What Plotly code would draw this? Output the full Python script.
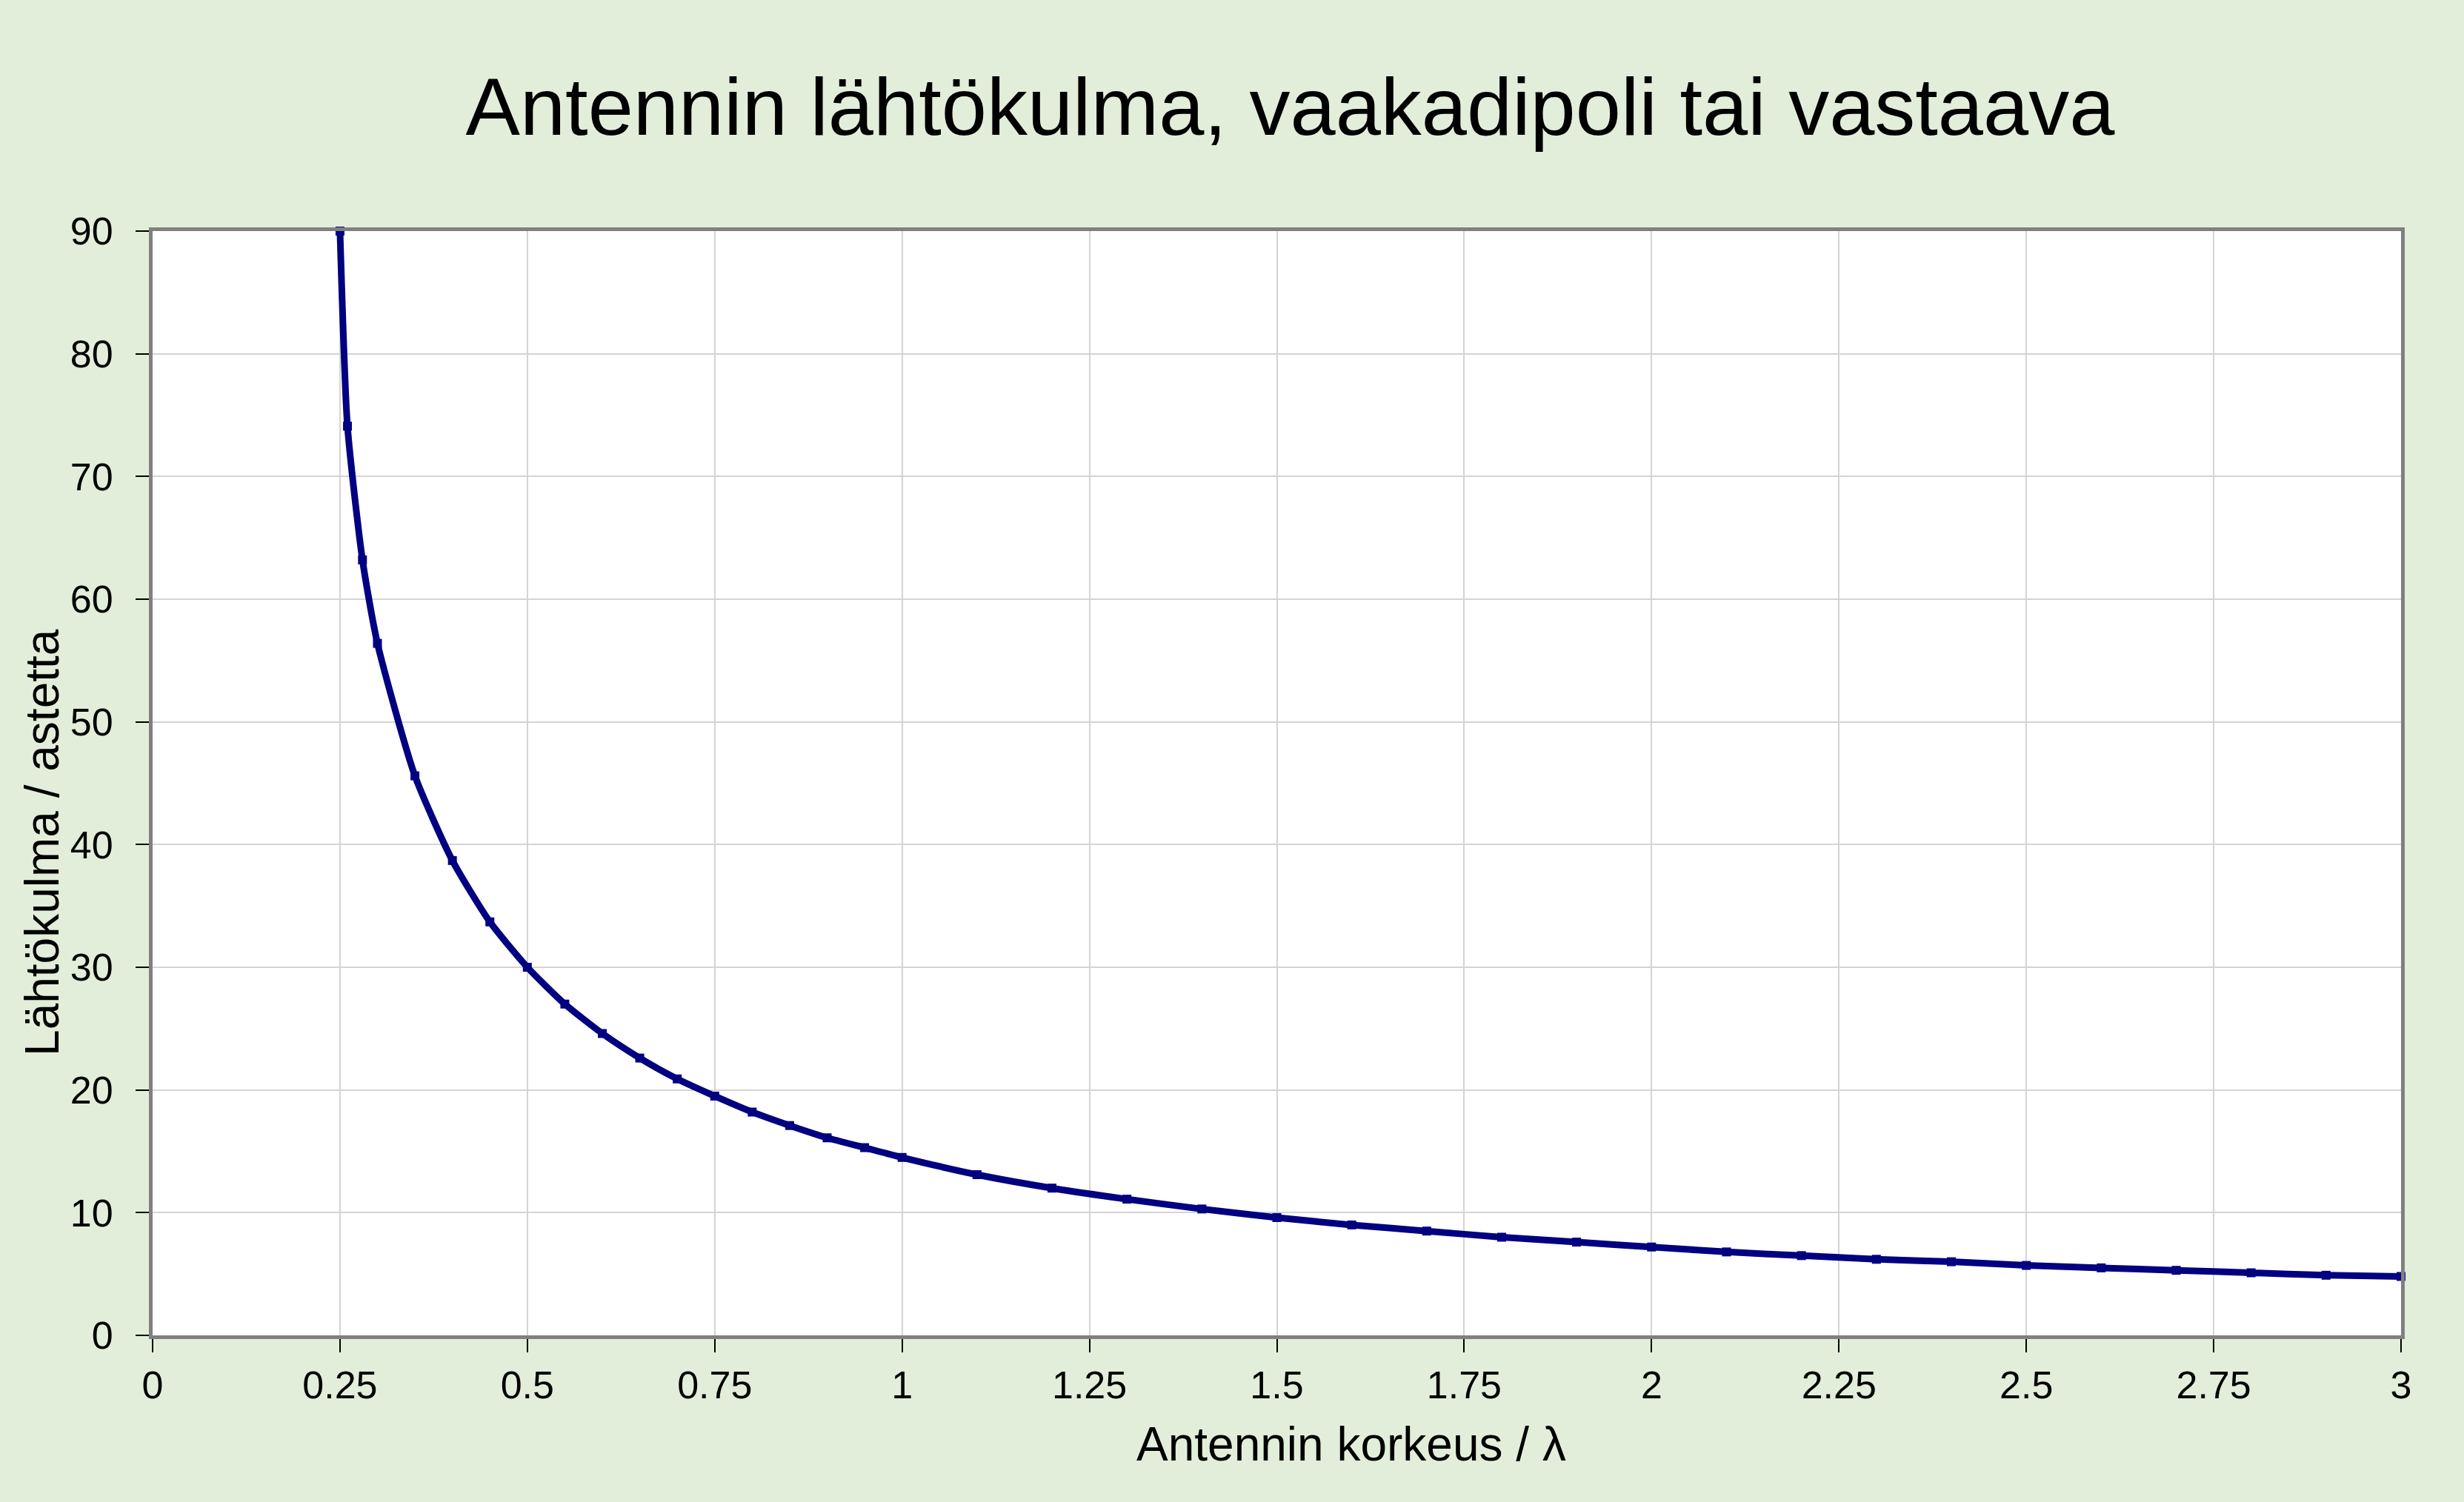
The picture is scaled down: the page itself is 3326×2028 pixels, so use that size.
import plotly.graph_objects as go

# Antenna height (in wavelengths) and take-off angle (degrees)
height_lambda = [0.25, 0.26, 0.28, 0.30, 0.35, 0.40, 0.45, 0.50, 0.55, 0.60,
                 0.65, 0.70, 0.75, 0.80, 0.85, 0.90, 0.95, 1.0, 1.1, 1.2,
                 1.3, 1.4, 1.5, 1.6, 1.7, 1.8, 1.9, 2.0, 2.1, 2.2,
                 2.3, 2.4, 2.5, 2.6, 2.7, 2.8, 2.9, 3.0]
angle_deg = [90.0, 74.1, 63.2, 56.4, 45.6, 38.7, 33.7, 30.0, 27.0, 24.6,
             22.6, 20.9, 19.5, 18.2, 17.1, 16.1, 15.3, 14.5, 13.1, 12.0,
             11.1, 10.3, 9.6, 9.0, 8.5, 8.0, 7.6, 7.2, 6.8, 6.5,
             6.2, 6.0, 5.7, 5.5, 5.3, 5.1, 4.9, 4.8]

x_ticks = [0, 0.25, 0.5, 0.75, 1, 1.25, 1.5, 1.75, 2, 2.25, 2.5, 2.75, 3]
x_ticklabels = ["0", "0.25", "0.5", "0.75", "1", "1.25", "1.5", "1.75", "2",
                "2.25", "2.5", "2.75", "3"]
y_ticks = [0, 10, 20, 30, 40, 50, 60, 70, 80, 90]

title_text = "Antennin lähtökulma, vaakadipoli tai vastaava"
x_title = "Antennin korkeus / λ"
y_title = "Lähtökulma / astetta"

BG = "#E2EED9"
NAVY = "#000080"
FONT = "Liberation Sans, Arial, sans-serif"

fig = go.Figure()
fig.add_trace(go.Scatter(
    x=height_lambda, y=angle_deg, mode="lines+markers",
    line=dict(color=NAVY, width=9, shape="spline", smoothing=0.6),
    marker=dict(symbol="square", size=12, color=NAVY),
    cliponaxis=False, showlegend=False,
))

axis_common = dict(
    showgrid=True, gridcolor="#D4D4D4", gridwidth=2,
    showline=True, linecolor="#808080", linewidth=5, mirror=True,
    ticks="outside", ticklen=18, tickwidth=2, tickcolor="#000000",
    tickfont=dict(family=FONT, size=52, color="#000000"),
    zeroline=False,
)

fig.update_layout(
    width=3326, height=2028,
    paper_bgcolor=BG, plot_bgcolor="#FFFFFF",
    margin=dict(l=206, r=85, t=312, b=225),
    title=dict(text=title_text, x=0.5236, xanchor="center", y=0.929, yanchor="middle",
               font=dict(family=FONT, size=110, color="#000000")),
    xaxis=dict(range=[0, 3], tickvals=x_ticks, ticktext=x_ticklabels,
               ticklabelstandoff=0, **axis_common),
    yaxis=dict(range=[0, 90], tickvals=y_ticks, ticklabelstandoff=20,
               **axis_common),
    annotations=[
        dict(text=x_title, xref="paper", yref="paper", x=0.533, y=-0.0986,
             xanchor="center", yanchor="middle", showarrow=False,
             font=dict(family=FONT, size=64, color="#000000")),
        dict(text=y_title, xref="paper", yref="paper", x=-0.0491, y=0.4467,
             xanchor="center", yanchor="middle", showarrow=False, textangle=-90,
             font=dict(family=FONT, size=64, color="#000000")),
    ],
)

fig.write_html("out.html", config={"displayModeBar": False},
               post_script="document.body.style.margin='0px';")
